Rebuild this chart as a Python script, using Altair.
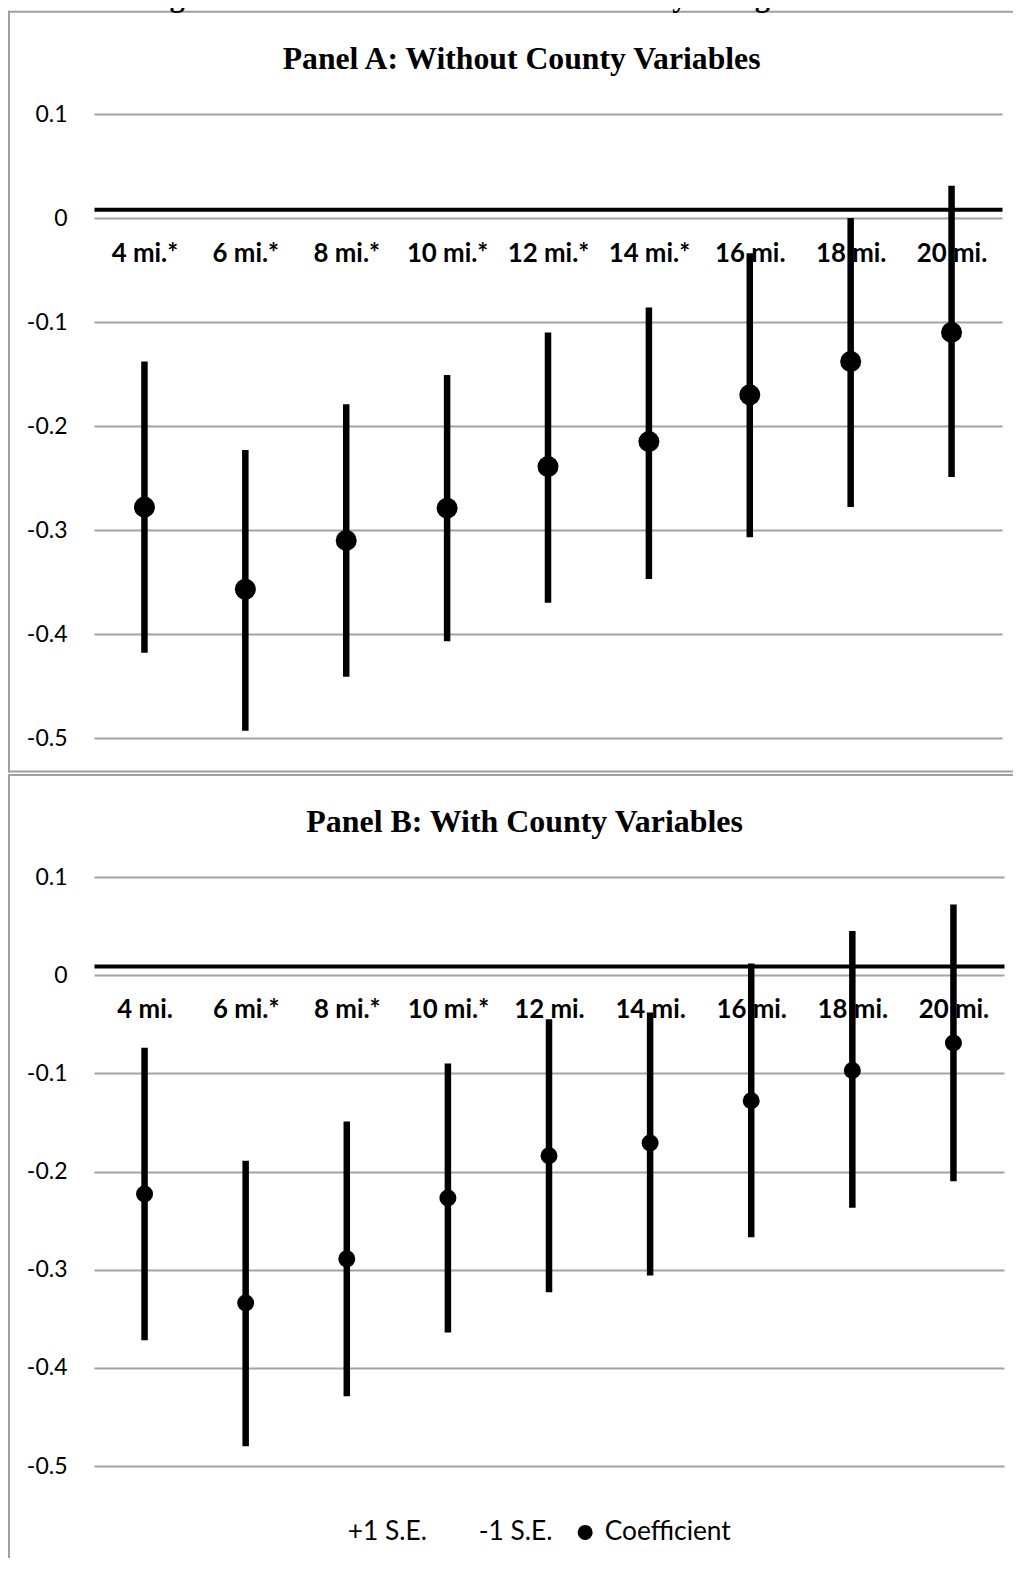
import altair as alt
import pandas as pd

# ---------------- data ----------------
CATS_A = ["4 mi.*", "6 mi.*", "8 mi.*", "10 mi.*", "12 mi.*", "14 mi.*", "16 mi.", "18 mi.", "20 mi."]
COEF_A = [-0.278, -0.357, -0.310, -0.279, -0.239, -0.215, -0.170, -0.138, -0.110]
PLUS_A = [-0.138, -0.223, -0.179, -0.151, -0.110, -0.086, -0.034, 0.000, 0.031]
MINUS_A = [-0.418, -0.493, -0.441, -0.407, -0.370, -0.347, -0.307, -0.278, -0.249]

CATS_B = ["4 mi.", "6 mi.*", "8 mi.*", "10 mi.*", "12 mi.", "14 mi.", "16 mi.", "18 mi.", "20 mi."]
COEF_B = [-0.223, -0.334, -0.289, -0.227, -0.184, -0.171, -0.128, -0.097, -0.069]
PLUS_B = [-0.074, -0.189, -0.149, -0.090, -0.045, -0.038, 0.012, 0.045, 0.072]
MINUS_B = [-0.372, -0.480, -0.429, -0.364, -0.323, -0.306, -0.267, -0.237, -0.210]

Y_TICKS = [-0.5, -0.4, -0.3, -0.2, -0.1, 0.0, 0.1]
Y_DOMAIN = [-0.5, 0.1]
SERIES = ["+1 S.E.", "-1 S.E.", "Coefficient"]

FIG_TITLE = "Figure 2: Coefficient on Railroad Dummy Using Other Cutoffs"
TITLE_A = "Panel A: Without County Variables"
TITLE_B = "Panel B: With County Variables"

# ---------------- styles ----------------
SANS = "Lato"
SERIF = "Liberation Serif"
GRID = "#a3a3a3"
BOX = "#a0a0a0"
YLBL = 23
XLBL = 25.8
FRAME_L, FRAME_R = -86, 919   # frame extent in panel pixels (right edge runs off the page)

Y_LABEL_EXPR = ("abs(datum.value) < 1e-9 ? '0' : "
                "(datum.value < 0 ? '-' : '') + format(abs(datum.value), '.1f')")


def bar(df, x1, x2, y1, y2):
    """A piece of the grey chart-area frame (filled strip)."""
    return alt.Chart(df).mark_rect(color=BOX).encode(
        x=alt.value(x1), x2=alt.value(x2), y=alt.value(y1), y2=alt.value(y2))


def hframe(df, y1, y2):
    return bar(df, FRAME_L, FRAME_R, y1, y2)


def vframe(df, y1, y2):
    return bar(df, FRAME_L, FRAME_L + 2, y1, y2)


def panel(cats, coef, plus, minus, title, width, height, axis_gap, label_gap,
          title_xy, title_size, point_size, frame, legend):
    df = pd.DataFrame({"cutoff": cats, "coef": coef, "plus": plus,
                       "minus": minus, "series": "Coefficient"})
    y0 = height * Y_DOMAIN[1] / (Y_DOMAIN[1] - Y_DOMAIN[0])
    x_axis = alt.Axis(title=None, orient="bottom", offset=(y0 - axis_gap) - height,
                      domain=True, domainColor="black", domainWidth=4,
                      ticks=False, tickSize=0, grid=False, labelAngle=0,
                      labelPadding=label_gap, labelBaseline="middle",
                      labelFont=SANS, labelFontSize=XLBL, labelFontWeight="bold",
                      labelColor="black", labelOverlap=False)
    x = alt.X("cutoff:N", sort=cats, scale=alt.Scale(type="point", padding=0.5), axis=x_axis)
    y_scale = alt.Scale(domain=Y_DOMAIN, nice=False, zero=False)
    y_axis = alt.Axis(title=None, values=Y_TICKS, labelExpr=Y_LABEL_EXPR, grid=True,
                      gridColor=GRID, gridWidth=2, domain=False, ticks=False, tickSize=0,
                      labelPadding=27, labelFont=SANS, labelFontSize=YLBL,
                      labelColor="black")

    bars = alt.Chart(df).mark_rule(color="black", strokeWidth=6.5).encode(
        x=x, y=alt.Y("minus:Q", scale=y_scale, axis=y_axis), y2="plus:Q")

    if legend:
        leg = alt.Legend(title=None, orient="none", legendX=221, legendY=642,
                         direction="horizontal", columns=3, columnPadding=19,
                         symbolType="circle", symbolSize=225, symbolStrokeWidth=0,
                         labelOffset=6.5, labelFont=SANS, labelFontSize=26.3,
                         labelColor="black", padding=0)
    else:
        leg = None
    color = alt.Color("series:N", scale=alt.Scale(domain=SERIES,
                      range=["transparent", "transparent", "black"]), legend=leg)
    pts = alt.Chart(df).mark_circle(size=point_size, opacity=1).encode(
        x=x, y=alt.Y("coef:Q", scale=y_scale, axis=y_axis), color=color)

    one = pd.DataFrame({"label": [title]})
    ttl = alt.Chart(one).mark_text(font=SERIF, fontSize=title_size, fontWeight="bold",
                                   align="center", baseline="middle", color="black").encode(
        x=alt.value(title_xy[0]), y=alt.value(title_xy[1]), text="label:N")
    layers = frame(one) + [ttl, bars, pts]
    return alt.layer(*layers).properties(width=width, height=height)


# panel A: left + bottom edge of its own frame, plus the top edge of panel B's frame
def frame_a(one):
    return [vframe(one, -101, 658.5), hframe(one, 656.5, 658.5),
            hframe(one, 660, 662), vframe(one, 660, 662)]


# panel B: left edge (bottom edge runs off the page)
def frame_b(one):
    return [vframe(one, -101, 681)]


panel_a = panel(CATS_A, COEF_A, PLUS_A, MINUS_A, TITLE_A, 908, 624, 8.7, 44.3,
                (427.6, -54.8), 31.7, 441, frame_a, False)
panel_b = panel(CATS_B, COEF_B, PLUS_B, MINUS_B, TITLE_B, 910, 589, 9.1, 43.3,
                (430.6, -54.6), 31.9, 289, frame_b, True)

# header strip: figure title (cut by the top of the page, as in the source image)
# and the top edge of panel A's frame
head_df = pd.DataFrame({"label": [FIG_TITLE]})
head_text = alt.Chart(head_df).mark_text(clip=True, font=SERIF, fontSize=30.6,
                                         fontWeight="bold", align="center",
                                         baseline="alphabetic", color="black").encode(
    x=alt.value(457), y=alt.value(-1.7), text="label:N")
head = alt.layer(hframe(head_df, 2.7, 4.7), vframe(head_df, 2.7, 5), head_text).properties(
    width=908, height=5)

chart = alt.vconcat(head, panel_a, panel_b, spacing=0).resolve_scale(
    color="independent"
).properties(padding=0, background="white").configure_view(stroke=None)

chart.save("out.html", embed_options={"renderer": "svg", "actions": False})
